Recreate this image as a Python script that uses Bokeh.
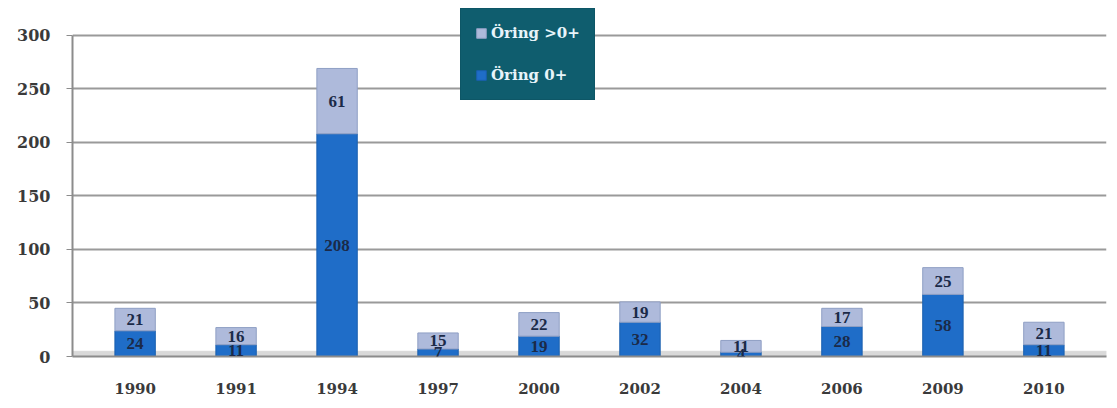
from bokeh.plotting import figure
from bokeh.models import ColumnDataSource, LabelSet, Legend, LegendItem, FixedTicker, BoxAnnotation
from bokeh.embed import file_html
from bokeh.resources import INLINE

years = ["1990", "1991", "1994", "1997", "2000", "2002", "2004", "2006", "2009", "2010"]
oring_0 = [24, 11, 208, 7, 19, 32, 4, 28, 58, 11]
oring_gt0 = [21, 16, 61, 15, 22, 19, 11, 17, 25, 21]
y_ticks = [0, 50, 100, 150, 200, 250, 300]

src = ColumnDataSource(dict(
    years=years,
    oring_0=oring_0,
    oring_gt0=oring_gt0,
    mid0=[v / 2 for v in oring_0],
    mid1=[a + b / 2 for a, b in zip(oring_0, oring_gt0)],
    lab0=[str(v) for v in oring_0],
    lab1=[str(v) for v in oring_gt0],
))

FONT = "DejaVu Serif"

p = figure(x_range=years, y_range=(0, 325), width=1110, height=400,
           output_backend="svg", toolbar_location=None,
           min_border_left=72, min_border_right=4, min_border_top=8, min_border_bottom=44)
p.x_range.range_padding = 0.024
p.outline_line_color = None
p.background_fill_color = "white"

p.add_layout(BoxAnnotation(bottom=0, top=5, fill_color="#d9d9d9", fill_alpha=1.0,
                           line_color="#bfbfbf", level="underlay"))

r = p.vbar_stack(["oring_0", "oring_gt0"], x="years", width=0.4, source=src,
                 color=["#1f6dc8", "#aebadb"], line_color=["#1a5fae", "#8f9fc4"], line_width=1)

lab_style = dict(text_align="center", text_baseline="middle", text_font_size="17px",
                 text_font=FONT, text_font_style="bold", text_color="#1b2a48")
p.add_layout(LabelSet(x="years", y="mid0", text="lab0", source=src, **lab_style))
p.add_layout(LabelSet(x="years", y="mid1", text="lab1", source=src, **lab_style))

p.yaxis.ticker = FixedTicker(ticks=y_ticks)
p.yaxis.bounds = (0, 300)
p.ygrid.ticker = FixedTicker(ticks=y_ticks)
p.xgrid.grid_line_color = None
p.ygrid.grid_line_color = "#9a9a9a"
p.ygrid.grid_line_width = 2

for ax in (p.xaxis, p.yaxis):
    ax.axis_line_color = "#8c8c8c"
    ax.axis_line_width = 2
    ax.major_label_text_font = FONT
    ax.major_label_text_font_style = "bold"
    ax.major_label_text_color = "#3a3a3a"
    ax.minor_tick_line_color = None

p.yaxis.major_label_text_font_size = "16px"
p.xaxis.major_label_text_font_size = "15px"
p.yaxis.major_tick_line_color = "#8c8c8c"
p.yaxis.major_tick_out = 6
p.yaxis.major_tick_in = 0
p.yaxis.major_label_standoff = 16
p.xaxis.major_tick_line_color = None
p.xaxis.major_label_standoff = 20

legend = Legend(items=[LegendItem(label="Öring >0+", renderers=[r[1]]),
                       LegendItem(label="Öring 0+", renderers=[r[0]])],
                location=(388, 256), orientation="vertical",
                background_fill_color="#0f5d6e", background_fill_alpha=1.0,
                border_line_color="#0b4f5e", label_text_color="#e8f4fa",
                label_text_font=FONT, label_text_font_style="bold",
                label_text_font_size="15px", glyph_width=12, glyph_height=12,
                label_height=20, spacing=22, padding=14, margin=0, label_standoff=4)
p.add_layout(legend, "center")

open("out.html", "w").write(file_html(p, INLINE))
